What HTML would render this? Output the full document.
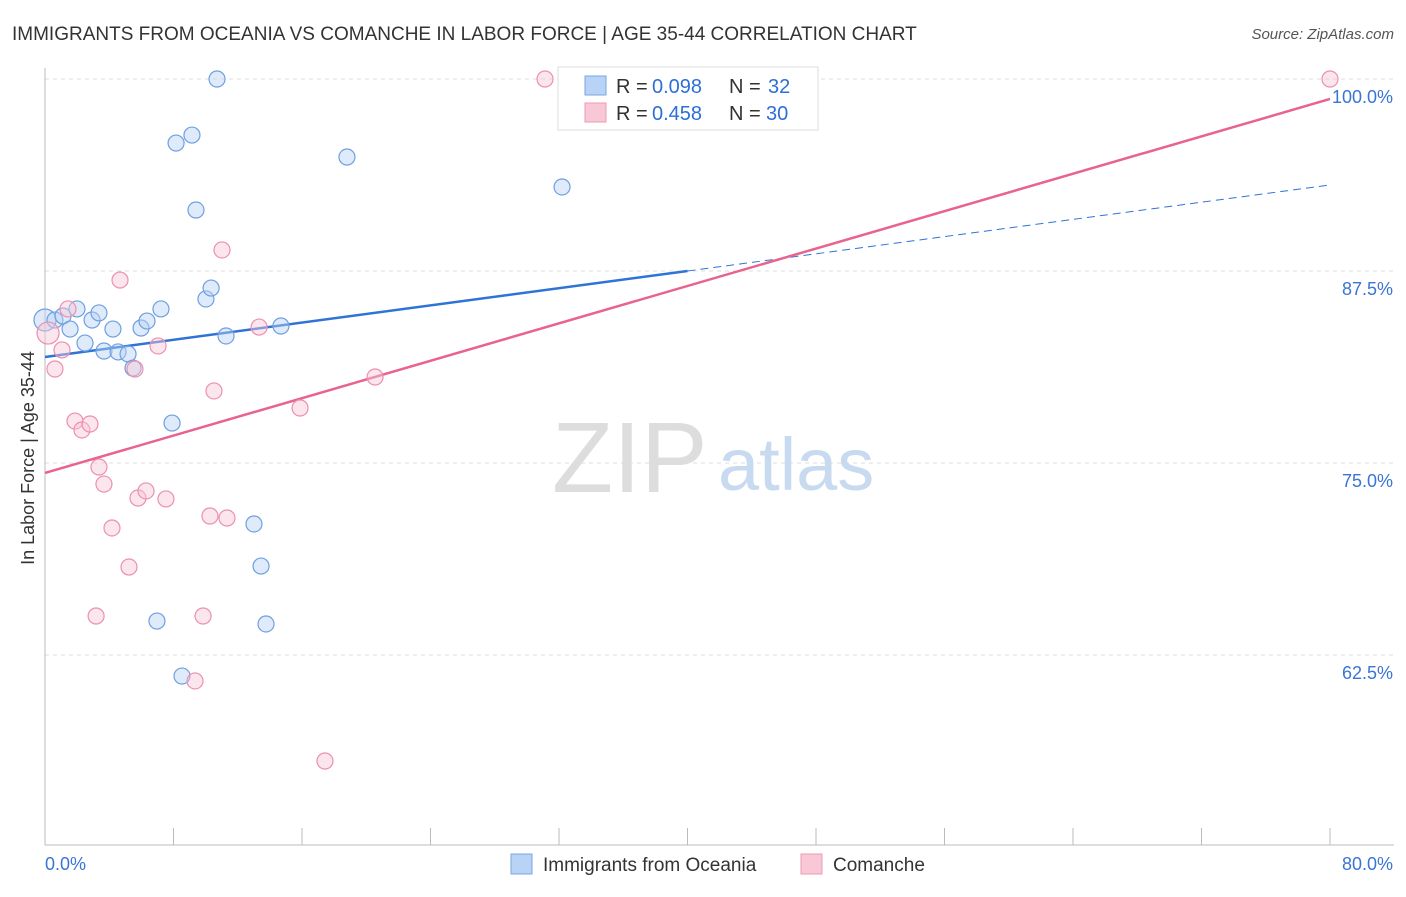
<!DOCTYPE html>
<html><head><meta charset="utf-8"><style>
body{margin:0;background:#fff;font-family:"Liberation Sans",sans-serif;}
svg text{font-family:"Liberation Sans",sans-serif;}
</style></head><body>
<svg id="c" width="1406" height="892">
<text x="12" y="40" font-size="19" fill="#333">IMMIGRANTS FROM OCEANIA VS COMANCHE IN LABOR FORCE | AGE 35-44 CORRELATION CHART</text>
<text x="1394" y="39" font-size="15" fill="#555" font-style="italic" text-anchor="end">Source: ZipAtlas.com</text>
<text x="34" y="458" font-size="18" fill="#333" text-anchor="middle" transform="rotate(-90 34 458)">In Labor Force | Age 35-44</text>
<g id="grid"></g>
<text x="552" y="492" font-size="100" fill="#ddd" font-family="Liberation Serif">ZIP</text>
<text x="718" y="490" font-size="74" fill="#c8daf0">atlas</text>
<g id="lines"></g>
<g id="pts"></g>
<g>
<rect x="558" y="67" width="260" height="63" fill="#fff" stroke="#ddd"/>
<rect x="585" y="76" width="21" height="19" fill="#b8d3f5" stroke="#7aa7e0"/>
<text x="616" y="93" font-size="20" fill="#333">R =</text>
<text x="652" y="93" font-size="20" fill="#2d6fd6">0.098</text>
<text x="729" y="93" font-size="20" fill="#333">N =</text>
<text x="768" y="93" font-size="20" fill="#2d6fd6">32</text>
<rect x="585" y="103" width="21" height="19" fill="#f9c8d6" stroke="#ee99b3"/>
<text x="616" y="120" font-size="20" fill="#333">R =</text>
<text x="652" y="120" font-size="20" fill="#2d6fd6">0.458</text>
<text x="729" y="120" font-size="20" fill="#333">N =</text>
<text x="766" y="120" font-size="20" fill="#2d6fd6">30</text>
</g>
<text x="45" y="870" font-size="18" fill="#3a74d6">0.0%</text>
<text x="1393" y="870" font-size="18" fill="#3a74d6" text-anchor="end">80.0%</text>
<g>
<rect x="511" y="854" width="21" height="20" fill="#b8d3f5" stroke="#7aa7e0"/>
<text x="543" y="871" font-size="19" fill="#333">Immigrants from Oceania</text>
<rect x="801" y="854" width="21" height="20" fill="#f9c8d6" stroke="#ee99b3"/>
<text x="833" y="871" font-size="19" fill="#333">Comanche</text>
</g>
</svg>
<script>
const yTicks=[100,87.5,75,62.5];
const yTickLabels=["100.0%","87.5%","75.0%","62.5%"];
const xTicks=[0,8,16,24,32,40,48,56,64,72,80];
const blueX=[0,0.62,1.12,1.56,1.99,2.49,2.93,3.36,3.67,4.23,4.55,5.17,5.48,5.98,6.35,7.22,7.91,8.16,8.53,9.15,9.40,10.02,10.34,10.71,11.27,13.01,13.45,13.76,14.69,18.8,32.19,6.97];
const blueY=[84.31,84.31,84.57,83.72,85.03,82.81,84.31,84.77,82.29,83.72,82.23,82.10,81.18,83.79,84.24,85.03,77.6,95.83,61.13,96.35,91.47,85.68,86.39,100,83.27,71.03,68.29,64.52,83.92,94.92,92.97,64.71];
const pinkX=[0.19,0.62,1.06,1.43,1.87,2.30,2.80,3.18,3.36,3.67,4.17,4.67,5.23,5.60,5.79,6.29,7.04,7.53,9.34,9.84,10.27,10.52,11.02,11.33,13.33,15.88,17.43,20.55,31.13,80];
const pinkY=[83.46,81.12,82.36,85.03,77.73,77.15,77.54,65.04,74.74,73.63,70.77,86.91,68.23,81.12,72.72,73.18,82.62,72.66,60.81,65.04,71.55,79.69,88.87,71.42,83.85,78.58,55.6,80.6,100,100];
const blueLine=[81.9,93.1];
const blueSolidEnd=40;
const pinkLine=[74.35,98.7];
const NS="http://www.w3.org/2000/svg";
const X=v=>45+v*(1285/80);
const Y=v=>79+(100-v)*(192/12.5);
function mk(t,a,p){const e=document.createElementNS(NS,t);for(const k in a)e.setAttribute(k,a[k]);p.appendChild(e);return e;}
const grid=document.getElementById('grid');
yTicks.forEach((v,i)=>{
 const l=mk('line',{x1:45,x2:1394,y1:Y(v),y2:Y(v),stroke:'#ddd','stroke-dasharray':'4,4'},grid);
 
 
 const t=mk('text',{x:1393,y:Y(v)+24,'font-size':18,fill:'#3a74d6','text-anchor':'end'},grid);
 t.textContent=yTickLabels[i];
 
 
});
mk('line',{x1:45,x2:45,y1:68,y2:845,stroke:'#bbb'},grid);
mk('line',{x1:45,x2:1394,y1:845,y2:845,stroke:'#bbb'},grid);
xTicks.forEach(v=>{const l=mk('line',{x1:X(v),x2:X(v),y1:828,y2:845,stroke:'#bbb'},grid);
 
 });
const pts=document.getElementById('pts');
function dots(xs,ys,fill,stroke,name){xs.forEach((x,i)=>{const c=mk('circle',{cx:X(x),cy:Y(ys[i]),r:(i===0?11:8),fill:fill,'fill-opacity':0.45,stroke:stroke,'stroke-width':1.2},pts);
 
 });}
dots(blueX,blueY,'#b8d3f5','#6e9fe0','oceania-point');
dots(pinkX,pinkY,'#f9c8d6','#ec8fae','comanche-point');
const lines=document.getElementById('lines');
const by=x=>blueLine[0]+(blueLine[1]-blueLine[0])*x/80;
const bl=mk('line',{x1:X(0),y1:Y(by(0)),x2:X(blueSolidEnd),y2:Y(by(blueSolidEnd)),stroke:'#2f73d6','stroke-width':2.5},lines);


const bd=mk('line',{x1:X(blueSolidEnd),y1:Y(by(blueSolidEnd)),x2:X(80),y2:Y(by(80)),stroke:'#2f73d6','stroke-width':1,'stroke-dasharray':'8,5'},lines);


const pl=mk('line',{x1:X(0),y1:Y(pinkLine[0]),x2:X(80),y2:Y(pinkLine[1]),stroke:'#e8638e','stroke-width':2.5},lines);


</script>
</body></html>
